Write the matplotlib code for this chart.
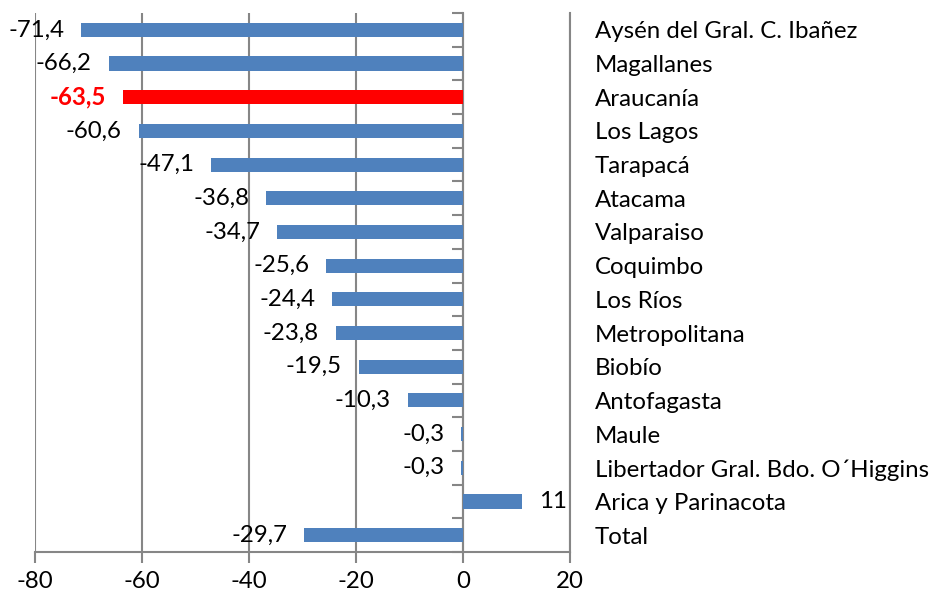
import numpy as np
import matplotlib.pyplot as plt
from matplotlib.ticker import FixedLocator

regions = ['Aysén del Gral. C. Ibañez', 'Magallanes', 'Araucanía', 'Los Lagos',
           'Tarapacá', 'Atacama', 'Valparaiso', 'Coquimbo', 'Los Ríos',
           'Metropolitana', 'Biobío', 'Antofagasta', 'Maule',
           'Libertador Gral. Bdo. O´Higgins', 'Arica y Parinacota', 'Total']
values = [-71.4, -66.2, -63.5, -60.6, -47.1, -36.8, -34.7, -25.6, -24.4,
          -23.8, -19.5, -10.3, -0.3, -0.3, 11, -29.7]
highlight = 'Araucanía'
x_ticks = [-80, -60, -40, -20, 0, 20]

plt.rcParams['font.family'] = ['Lato', 'DejaVu Sans']
grey = '#868686'
blue = '#4F81BD'
fs = 17.3

fig = plt.figure(figsize=(9.35, 5.99), dpi=100)
ax = fig.add_axes([35 / 935, 47 / 599, 535 / 935, 539 / 599])

y = np.arange(len(regions))
colors = ['#FF0000' if r == highlight else blue for r in regions]
ax.barh(y, values, height=0.42, color=colors, zorder=3)

for yi, v, r in zip(y, values, regions):
    txt = ('%g' % v).replace('.', ',')
    hot = r == highlight
    off = -17 if v < 0 else 17
    ax.annotate(txt, (v, yi), xytext=(off, 0), textcoords='offset pixels',
                ha='right' if v < 0 else 'left', va='center', fontsize=fs,
                color='#FF0000' if hot else 'black',
                fontweight='bold' if hot else 'normal', zorder=4)

ax.set_xlim(-80, 20)
ax.set_ylim(len(regions) - 0.5, -0.5)
ax.set_xticks(x_ticks)
ax.set_xticklabels([str(t) for t in x_ticks], fontsize=fs)
ax.tick_params(axis='x', length=8, width=1.5, color=grey, pad=6)
ax.grid(axis='x', color=grey, linewidth=1.5, zorder=0)

# category axis sits on x = 0, names on the right
ax.spines['left'].set_position(('data', 0))
ax.spines['top'].set_visible(False)
for s in ['left', 'right', 'bottom']:
    ax.spines[s].set_color(grey)
    ax.spines[s].set_linewidth(1.5)
ax.set_yticks(y)
ax.set_yticklabels(regions, fontsize=fs)
ax.yaxis.set_minor_locator(FixedLocator(np.arange(len(regions) + 1) - 0.5))
ax.tick_params(axis='y', which='major', left=False, right=False,
               labelleft=False, labelright=True, pad=14.5)
ax.tick_params(axis='y', which='minor', left=True, right=False,
               length=8, width=1.5, color=grey)

fig.savefig('out.png', dpi=100)
